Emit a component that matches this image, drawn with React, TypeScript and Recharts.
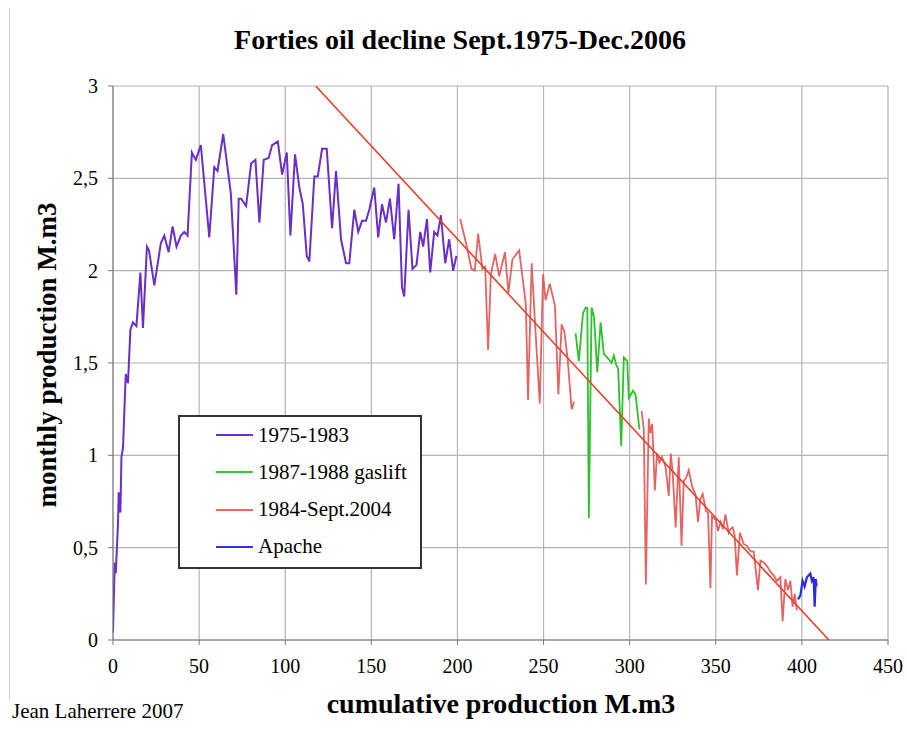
import React from "react";
import { LineChart, Line, XAxis, YAxis, CartesianGrid } from "recharts";

const SERIF = "'Liberation Serif', 'Times New Roman', serif";

const X_TICKS = [0, 50, 100, 150, 200, 250, 300, 350, 400, 450];
const Y_TICKS = [0, 0.5, 1, 1.5, 2, 2.5, 3];

// cumulative production (M.m3), monthly production (M.m3)
const early: [number, number][] = [
  [0, 0.04], [1, 0.42], [1.6, 0.36], [2.9, 0.63], [3.3, 0.8], [4.3, 0.69], [4.9, 0.99],
  [5.8, 1.04], [7.4, 1.44], [8.7, 1.39], [10.1, 1.68], [11.6, 1.72], [13.6, 1.7],
  [15.9, 1.99], [17.4, 1.69], [19.7, 2.13], [20.9, 2.11], [24, 1.92], [27.8, 2.15],
  [29.8, 2.19], [32.3, 2.1], [34.6, 2.24], [36.9, 2.13], [39.4, 2.19], [41.4, 2.21],
  [43.3, 2.19], [45.8, 2.64], [48.1, 2.6], [51, 2.68], [55.9, 2.18], [58.8, 2.56],
  [60.7, 2.54], [64, 2.74], [68.4, 2.42], [71.6, 1.87], [73, 2.39], [74.4, 2.39],
  [77.3, 2.35], [80.2, 2.58], [82.7, 2.6], [85, 2.26], [87.5, 2.6], [90.4, 2.61],
  [92.4, 2.68], [95.7, 2.7], [98.2, 2.52], [100.9, 2.64], [103, 2.19], [105.7, 2.63],
  [108.2, 2.45], [110.2, 2.36], [112.5, 2.08], [114, 2.05], [116.9, 2.51], [118.9, 2.51],
  [121.4, 2.66], [124.1, 2.66], [127.2, 2.23], [129.5, 2.54], [132.4, 2.17], [135.3, 2.04],
  [137.2, 2.04], [140.1, 2.33], [142.4, 2.21], [144.6, 2.27], [146.9, 2.27], [148.8, 2.33],
  [151.7, 2.45], [154, 2.18], [156.2, 2.36], [158.5, 2.26], [160.8, 2.39], [163.3, 2.17],
  [165.8, 2.47], [167.8, 1.91], [169.1, 1.86], [171.6, 2.33], [173.9, 2.01], [176.2, 2.03],
  [178.4, 2.21], [180.1, 2.13], [182.3, 2.28], [184.2, 1.99], [186.5, 2.21], [188.4, 2.19],
  [190.4, 2.3], [192.9, 2.04], [195.2, 2.17], [197.5, 2.0], [199.4, 2.08],
];

const gaslift: [number, number][] = [
  [268.6, 1.66], [270.5, 1.51], [272.9, 1.77], [274.4, 1.8], [275.4, 1.8], [276.3, 0.66],
  [277.9, 1.8], [279.3, 1.75], [281.2, 1.45], [283.1, 1.72], [285, 1.55], [287.9, 1.52],
  [289.5, 1.5], [290.8, 1.54], [292.2, 1.49], [293.3, 1.47], [295.1, 1.05], [296.6, 1.53],
  [298.6, 1.51], [299.5, 1.31], [301.9, 1.35], [303.4, 1.33], [305.7, 1.14],
];

// null = gap while the gaslift series runs
const late: [number, number | null][] = [
  [201.6, 2.28], [205.2, 2.14], [208.1, 2.01], [210.1, 2.0], [212, 2.2], [214.5, 2.01],
  [216.1, 2.02], [217.8, 1.57], [219.4, 1.98], [221.9, 2.09], [224.2, 1.97], [227.6, 2.1],
  [229.6, 1.88], [231.9, 2.06], [235.8, 2.11], [239.7, 1.82], [241, 1.3], [243.1, 2.04],
  [245.4, 1.66], [247.8, 1.28], [249.7, 1.98], [251.2, 1.84], [253.6, 1.93], [256.6, 1.81],
  [258.6, 1.33], [260.5, 1.71], [262.1, 1.67], [264, 1.52], [266.3, 1.25], [267.7, 1.29],
  [287, null],
  [306.9, 1.24], [308.2, 1.14], [309.4, 0.3], [311.1, 1.2], [312.1, 1.12], [313.1, 1.17],
  [314.6, 0.81], [315.9, 1.01], [317.3, 0.96], [318.8, 0.99], [320.8, 0.94], [322.7, 0.78],
  [323.9, 1.01], [325, 0.9], [326.7, 0.61], [328.5, 0.99], [330.1, 0.51], [331.4, 0.86],
  [332.8, 0.88], [334.3, 0.92], [336.3, 0.83], [338.2, 0.79], [339.7, 0.64], [341, 0.76],
  [342.4, 0.79], [344.3, 0.7], [345.5, 0.69], [346.9, 0.28], [347.8, 0.67], [350.1, 0.65],
  [351.3, 0.59], [352.8, 0.64], [354.2, 0.6], [355.6, 0.68], [357.5, 0.58], [358.5, 0.6],
  [359.8, 0.61], [360.9, 0.57], [362.3, 0.35], [364, 0.58], [366.2, 0.52], [368.1, 0.51],
  [370.1, 0.48], [372, 0.48], [374.5, 0.27], [375.9, 0.43], [377.8, 0.42], [379.7, 0.4],
  [381.7, 0.37], [383.6, 0.35], [385.5, 0.32], [387.5, 0.34], [388.8, 0.1], [390.4, 0.33],
  [391.9, 0.27], [393.3, 0.32], [394.6, 0.18], [395.8, 0.25], [397.1, 0.16],
];

const apache: [number, number][] = [
  [397.7, 0.22], [399.1, 0.24], [400.4, 0.32], [401.6, 0.29], [402.9, 0.34], [404.9, 0.36],
  [405.8, 0.32], [406.8, 0.34], [407.4, 0.18], [408.1, 0.33], [408.5, 0.29],
];

const trend: [number, number][] = [[117.7, 3], [415.7, 0]];

const LEGEND = [
  { label: "1975-1983", color: "#6633cc" },
  { label: "1987-1988 gaslift", color: "#33cc33" },
  { label: "1984-Sept.2004", color: "#ee6666" },
  { label: "Apache", color: "#3333dd" },
];

const toPts = (arr: [number, number | null][]) => arr.map(([x, y]) => ({ x, y }));

const tickStyle = { fill: "#000", fontSize: 20, fontFamily: SERIF };

export default function App() {
  return (
    <div style={{ position: "absolute", left: 0, top: 0, width: 907, height: 738, background: "#fff", fontFamily: SERIF }}>
      <div style={{ position: "absolute", left: 0, width: 920, top: 24, textAlign: "center", fontSize: 28, fontWeight: "bold" }}>
        Forties oil decline Sept.1975-Dec.2006
      </div>
      <div style={{ position: "absolute", left: 9, top: 8, width: 1, height: 692, background: "#d0d0d0" }} />

      <LineChart
        width={907}
        height={738}
        margin={{ top: 86, right: 19, bottom: 48, left: 70 }}
      >
        <CartesianGrid stroke="#b4b4b4" strokeWidth={1.2} />
        <XAxis
          type="number"
          dataKey="x"
          domain={[0, 450]}
          ticks={X_TICKS}
          allowDataOverflow
          height={50}
          stroke="#777"
          tickSize={5}
          tickMargin={14}
          tick={tickStyle}
        />
        <YAxis
          type="number"
          dataKey="y"
          domain={[0, 3]}
          ticks={Y_TICKS}
          allowDataOverflow
          width={43}
          stroke="#777"
          tickSize={5}
          tickMargin={10}
          tick={tickStyle}
          tickFormatter={(v: number) => String(v).replace(".", ",")}
        />
        <Line data={toPts(early)} dataKey="y" stroke="#6a2fc8" strokeWidth={2} dot={false} isAnimationActive={false} />
        <Line data={toPts(late)} dataKey="y" stroke="#e25252" strokeOpacity={0.9} strokeWidth={1.8} dot={false} isAnimationActive={false} />
        <Line data={toPts(gaslift)} dataKey="y" stroke="#2cc02c" strokeWidth={1.8} dot={false} isAnimationActive={false} />
        <Line data={toPts(apache)} dataKey="y" stroke="#2b2bdd" strokeWidth={2.2} dot={false} isAnimationActive={false} />
        <Line data={toPts(trend)} dataKey="y" stroke="#e8402a" strokeWidth={1.6} dot={false} isAnimationActive={false} />
      </LineChart>

      <div style={{ position: "absolute", left: 178, top: 415, width: 240, height: 150, border: "2px solid #333", background: "#fff" }}>
        {LEGEND.map((item, i) => (
          <div key={item.label} style={{ position: "absolute", left: 36, top: 4 + i * 37.3, height: 28, display: "flex", alignItems: "center", whiteSpace: "nowrap" }}>
            <span style={{ display: "inline-block", width: 37, height: 2, background: item.color, marginRight: 5 }} />
            <span style={{ fontSize: 21 }}>{item.label}</span>
          </div>
        ))}
      </div>

      <div style={{ position: "absolute", left: 47, top: 355, transform: "translate(-50%, -50%) rotate(-90deg)", fontSize: 27, fontWeight: "bold", whiteSpace: "nowrap" }}>
        monthly production M.m3
      </div>
      <div style={{ position: "absolute", left: 0, width: 1002, top: 688, textAlign: "center", fontSize: 28, fontWeight: "bold" }}>
        cumulative production M.m3
      </div>
      <div style={{ position: "absolute", left: 12, top: 699, fontSize: 21 }}>
        Jean Laherrere 2007
      </div>
    </div>
  );
}
